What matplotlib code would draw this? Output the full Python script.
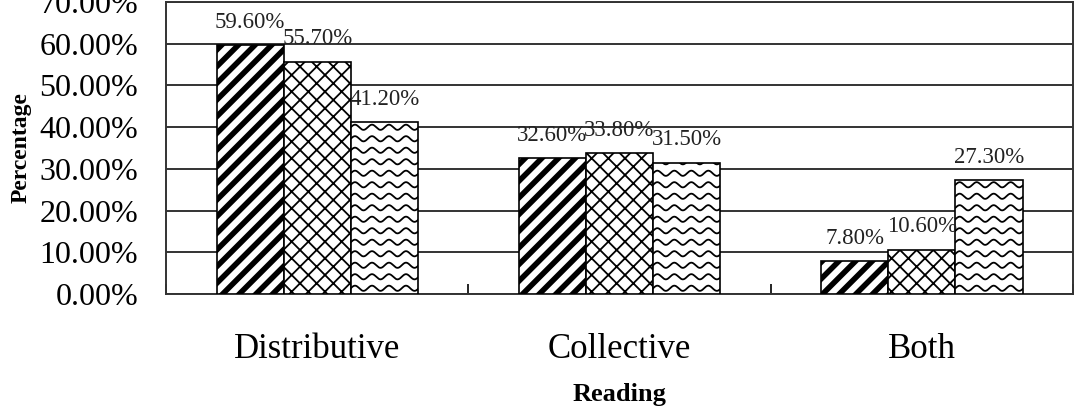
import numpy as np
import matplotlib
matplotlib.use("Agg")
import matplotlib.pyplot as plt

plt.rcParams['font.family'] = ['Liberation Serif', 'DejaVu Serif']

categories = ['Distributive', 'Collective', 'Both']
series_a = [59.6, 32.6, 7.8]
series_b = [55.7, 33.8, 10.6]
series_c = [41.2, 31.5, 27.3]
yticks = [0, 10, 20, 30, 40, 50, 60, 70]

fig = plt.figure(figsize=(10.83, 4.07), dpi=100)
ax = fig.add_axes([0.1533, 0.2776, 0.8375, 0.7174])

x = np.arange(len(categories)) + 0.5
w = 0.222

ax.set_xlim(0, 3)
ax.set_ylim(0, 70)

bars_a = ax.bar(x - w, series_a, w, color='white', edgecolor='black',
                linewidth=1.2, hatch='//', zorder=3)
bars_b = ax.bar(x, series_b, w, color='white', edgecolor='black',
                linewidth=1.2, hatch='xx', zorder=3)
bars_c = ax.bar(x + w, series_c, w, color='white', edgecolor='black',
                linewidth=1.2, zorder=3)

for p in bars_a:
    try:
        p.set_hatch_linewidth(4.0)
    except AttributeError:
        plt.rcParams['hatch.linewidth'] = 4.0
for p in bars_b:
    try:
        p.set_hatch_linewidth(1.3)
    except AttributeError:
        pass

# wavy fill for third series, drawn in pixel units and clipped to each bar
px_x = 3 / (0.8375 * 1083)
px_y = 70 / (0.7174 * 407)
period, gap, amp = 17, 11.5, 2.6
for p in bars_c:
    x0, y0 = p.get_x(), p.get_y()
    bw, bh = p.get_width(), p.get_height()
    xs = np.linspace(x0, x0 + bw, 400)
    yy = y0 + gap * px_y * 0.5
    while yy < y0 + bh + gap * px_y:
        ys = yy + amp * px_y * np.sin(2 * np.pi * (xs - x0) / (period * px_x))
        ln, = ax.plot(xs, ys, color='black', lw=1.3, zorder=4)
        ln.set_clip_path(p)
        yy += gap * px_y

for bars, vals in [(bars_a, series_a), (bars_b, series_b), (bars_c, series_c)]:
    for p, v in zip(bars, vals):
        ax.annotate(f'{v:.2f}%', (p.get_x() + p.get_width() / 2, v),
                    xytext=(0, 9), textcoords='offset points',
                    ha='center', va='bottom', fontsize=16.5, color='#222222')

ax.set_yticks(yticks)
ax.set_yticklabels([f'{t:.2f}%' for t in yticks], fontsize=23)
ax.yaxis.grid(True, color='#333333', lw=1.4, zorder=0)
ax.tick_params(axis='y', length=0, pad=20)

ax.set_xticks([0, 1, 2, 3])
ax.set_xticklabels([])
ax.set_xticks(x, minor=True)
ax.set_xticklabels(categories, minor=True, fontsize=25)
ax.tick_params(axis='x', which='major', direction='in', length=7, width=1.2)
ax.tick_params(axis='x', which='minor', length=0, pad=28)

for s in ax.spines.values():
    s.set_color('#333333')
    s.set_linewidth(1.4)

ax.set_xlabel('Reading', fontsize=19, fontweight='bold', labelpad=12)
ax.set_ylabel('Percentage', fontsize=17, fontweight='bold', labelpad=6)

fig.savefig('out.png', dpi=100)
